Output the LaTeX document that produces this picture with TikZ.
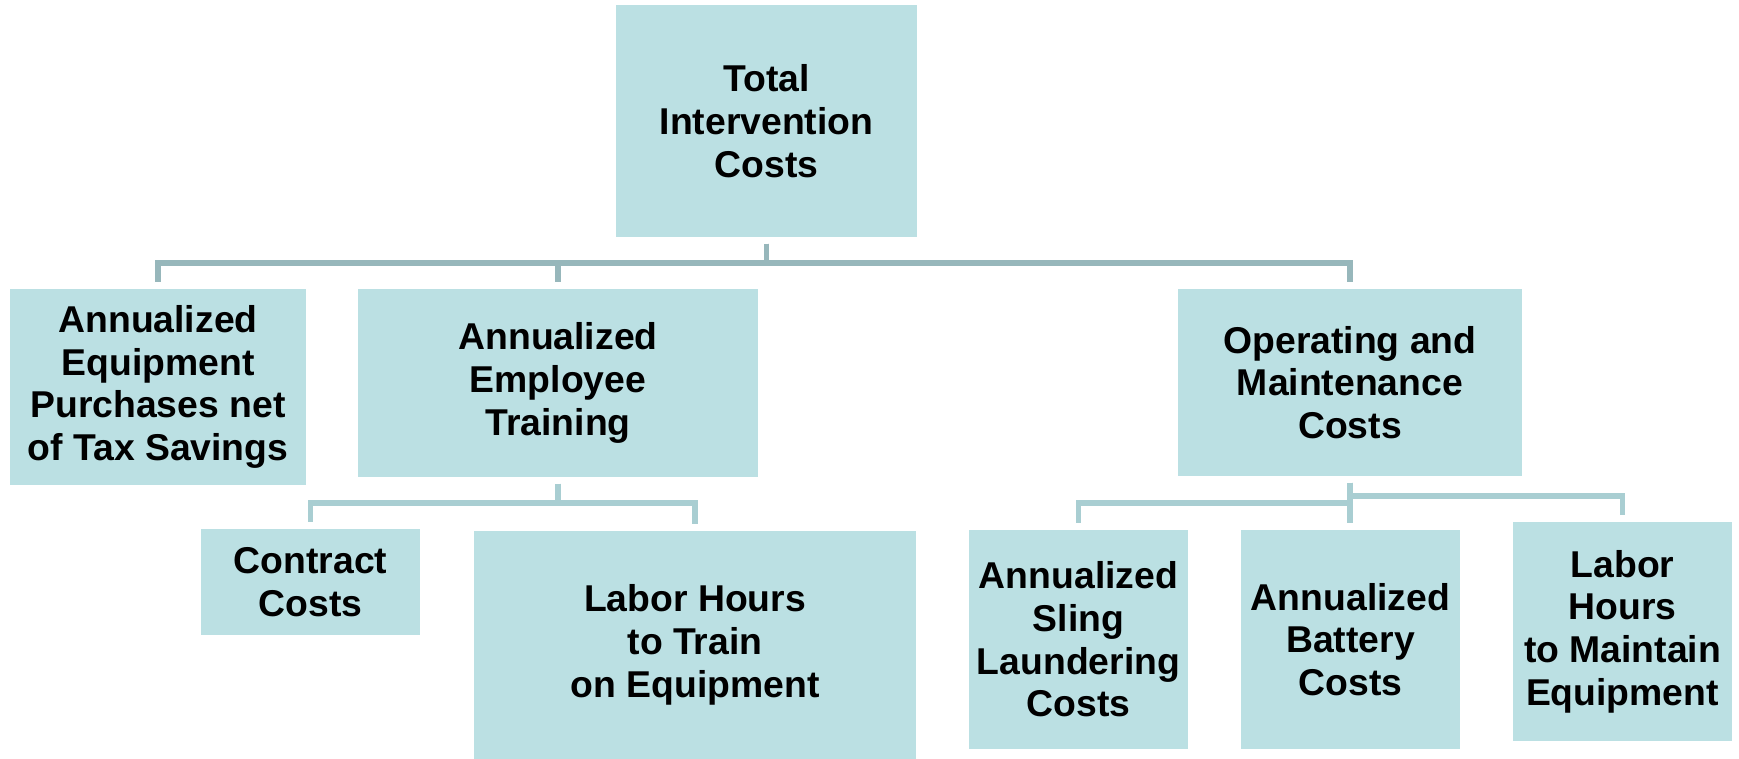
\documentclass[tikz,border=0pt]{standalone}
\usepackage{fontspec}
\setmainfont{Liberation Sans}
\usepackage{tikz}
\usetikzlibrary{calc}
\definecolor{costfill}{HTML}{BBE0E3}
\definecolor{costtrunk}{HTML}{97B7BB}
\definecolor{costtwig}{HTML}{A9CED2}
\tikzset{
  cbox/.style={fill=costfill, draw=none, align=center, inner sep=1pt, font=\fontsize{11.2}{12.8}\selectfont\bfseries},
  trunk/.style={draw=costtrunk, line width=1.7pt, shorten <=1.8pt, shorten >=1.8pt},
  twig/.style={draw=costtwig, line width=1.6pt, shorten <=1.8pt, shorten >=1.8pt},
}

\begin{document}
\begin{tikzpicture}[x=0.3pt, y=-0.3pt]
  \useasboundingbox (0,0) rectangle (1739,759);
  \node[cbox, minimum width=90.3pt, minimum height=69.6pt] (total) at (766.5,121) {Total\\Intervention\\Costs};
  \node[cbox, minimum width=88.8pt, minimum height=58.8pt] (equip) at (158,387) {Annualized\\Equipment\\Purchases net\\of Tax Savings};
  \node[cbox, minimum width=120pt, minimum height=56.4pt] (train) at (558,383) {Annualized\\Employee\\Training};
  \node[cbox, minimum width=103.2pt, minimum height=56.1pt] (opmaint) at (1350,382.5) {Operating and\\Maintenance\\Costs};
  \node[cbox, minimum width=65.7pt, minimum height=31.8pt] (contract) at (310.5,582) {Contract\\Costs};
  \node[cbox, minimum width=132.6pt, minimum height=68.4pt] (labtrain) at (695,645) {Labor Hours\\to Train\\on Equipment};
  \node[cbox, minimum width=65.7pt, minimum height=65.7pt] (sling) at (1078.5,639.5) {Annualized\\Sling\\Laundering\\Costs};
  \node[cbox, minimum width=65.7pt, minimum height=65.7pt] (battery) at (1350.5,639.5) {Annualized\\Battery\\Costs};
  \node[cbox, minimum width=65.7pt, minimum height=65.7pt] (labmaint) at (1622.5,631.5) {Labor\\Hours\\to Maintain\\Equipment};

  % branch levels
  \coordinate (busT) at (766.5,263);
  \coordinate (busE) at (558,503);
  \coordinate (busL) at (1350,503);
  \coordinate (busR) at (1350,496);

  \foreach \c in {equip,train,opmaint} \draw[trunk] (total.south) -- (total.south |- busT) -| (\c.north);
  \foreach \c in {contract,labtrain} \draw[twig] (train.south) -- (train.south |- busE) -| (\c.north);
  \draw[twig] (opmaint.south) -- (opmaint.south |- busL) -| (sling.north);
  \draw[twig] (opmaint.south) -- (opmaint.south |- busR) -| (labmaint.north);
  \draw[twig] (opmaint.south) -- (opmaint.south |- battery.north);
\end{tikzpicture}
\end{document}
